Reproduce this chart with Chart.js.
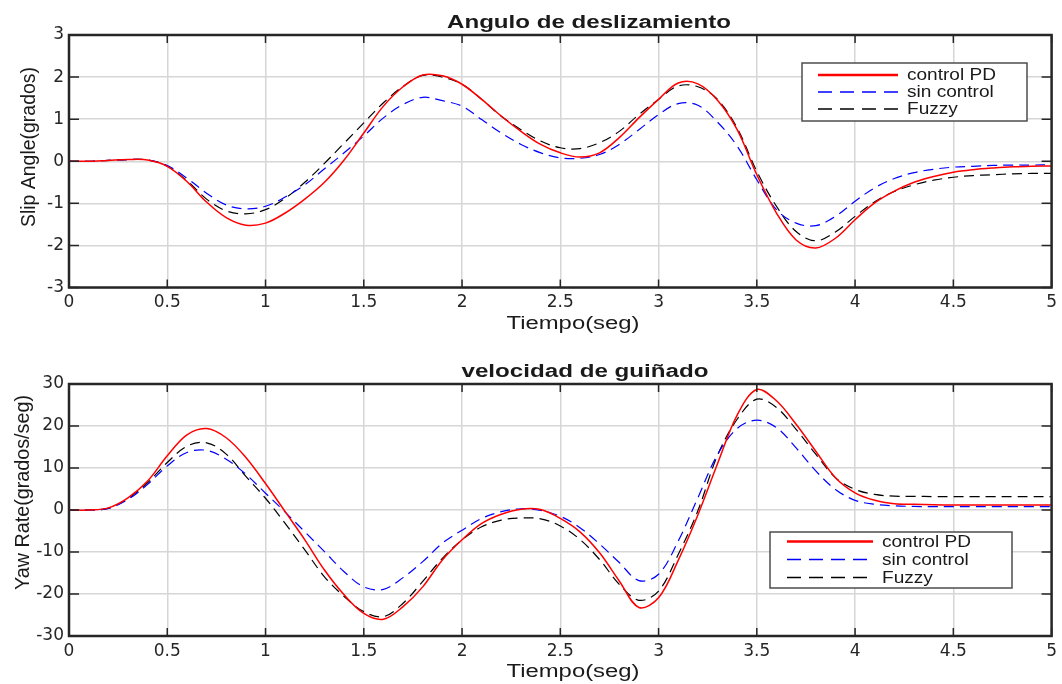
<!DOCTYPE html>
<html>
<head>
<meta charset="utf-8">
<title>Angulo de deslizamiento / velocidad de guiñado</title>
<script src="https://cdn.jsdelivr.net/npm/chart.js"></script>
<style>
    body { margin: 0; background: #ffffff; }
    canvas { position: absolute; left: 0; }
</style>
</head>
<body>
<canvas id="slipChart" width="1062" height="342" style="top:0"></canvas>
<canvas id="yawChart" width="1062" height="342" style="top:342px"></canvas>
<script>
// Tiempo (seg), paso de 0.1
const tiempo = [0, 0.1, 0.2, 0.3, 0.4, 0.5, 0.6, 0.7, 0.8, 0.9,
    1, 1.1, 1.2, 1.3, 1.4, 1.5, 1.6, 1.7, 1.8, 1.9,
    2, 2.1, 2.2, 2.3, 2.4, 2.5, 2.6, 2.7, 2.8, 2.9,
    3, 3.1, 3.2, 3.3, 3.4, 3.5, 3.6, 3.7, 3.8, 3.9,
    4, 4.1, 4.2, 4.3, 4.4, 4.5, 4.6, 4.7, 4.8, 4.9, 5];

// Slip angle (grados)
const slipPD = [0, 0, 0.02, 0.04, 0.03, -0.12, -0.48, -0.97, -1.34, -1.52,
    -1.47, -1.23, -0.9, -0.5, 0.03, 0.67, 1.31, 1.77, 2.05, 2.03,
    1.83, 1.47, 1.07, 0.71, 0.4, 0.2, 0.1, 0.2, 0.56, 1.03,
    1.47, 1.86, 1.84, 1.45, 0.75, -0.32, -1.23, -1.87, -2.06, -1.83,
    -1.39, -0.99, -0.71, -0.5, -0.36, -0.26, -0.2, -0.16, -0.13, -0.12, -0.11];
const slipSin = [0, 0, 0.02, 0.04, 0.03, -0.1, -0.4, -0.76, -1.04, -1.13,
    -1.07, -0.85, -0.56, -0.18, 0.2, 0.6, 1.03, 1.35, 1.52, 1.44,
    1.31, 0.99, 0.67, 0.4, 0.2, 0.08, 0.07, 0.16, 0.4, 0.75,
    1.11, 1.37, 1.33, 0.93, 0.36, -0.44, -1.15, -1.47, -1.53, -1.31,
    -0.95, -0.63, -0.41, -0.27, -0.19, -0.14, -0.12, -0.1, -0.09, -0.09, -0.08];
const slipFuzzy = [0, 0, 0.02, 0.04, 0.03, -0.12, -0.46, -0.9, -1.18, -1.25,
    -1.15, -0.88, -0.5, -0.05, 0.43, 0.91, 1.39, 1.78, 2.04, 2.0,
    1.83, 1.47, 1.07, 0.75, 0.48, 0.32, 0.3, 0.44, 0.71, 1.11,
    1.47, 1.79, 1.77, 1.47, 0.79, -0.24, -1.07, -1.67, -1.89, -1.68,
    -1.31, -0.96, -0.72, -0.56, -0.45, -0.38, -0.34, -0.32, -0.3, -0.29, -0.29];

// Yaw rate (grados/seg)
const yawPD = [0, 0, 0.5, 2.9, 6.9, 12.9, 17.9, 19.4, 17.2, 12.5,
    6.3, -0.4, -7.1, -14.3, -20.2, -24.6, -26, -23, -18.3, -11.9,
    -7.1, -3.2, -1, 0.2, 0.1, -2.0, -5.2, -10.2, -16.9, -23.2,
    -20.9, -12, -1.2, 11, 22.6, 28.7, 26, 20.4, 14, 7.7,
    4.1, 2.3, 1.5, 1.35, 1.25, 1.2, 1.2, 1.2, 1.2, 1.2, 1.2];
const yawSin = [0, 0, 0.4, 2.5, 6.1, 10.5, 13.7, 14.2, 12.1, 8.5,
    4, -0.5, -5.2, -9.9, -14.7, -18.3, -18.9, -16.1, -12.3, -7.9,
    -4.8, -2, -0.4, 0.3, -0.1, -1.5, -4.2, -8.1, -12.5, -16.8,
    -15.3, -7.4, 2.9, 13.2, 19.4, 21.4, 19.6, 14.8, 9.3, 4.9,
    2.3, 1.35, 1.0, 0.85, 0.8, 0.8, 0.8, 0.8, 0.8, 0.8, 0.8];
const yawFuzzy = [0, 0, 0.4, 2.7, 6.5, 11.3, 15.2, 16, 13.3, 8,
    2.8, -3.2, -9.5, -15.9, -20.6, -24.2, -25.4, -22.2, -17, -11.5,
    -7.1, -4, -2.4, -1.9, -2.1, -3.8, -7, -11.8, -17.7, -21.5,
    -19.3, -10.6, -0.2, 13, 21.6, 26.4, 24.4, 19.2, 13.3, 7.7,
    4.9, 3.7, 3.3, 3.25, 3.2, 3.2, 3.2, 3.2, 3.2, 3.2, 3.2];

// Marcas de los ejes
const xTicks = [0, 0.5, 1, 1.5, 2, 2.5, 3, 3.5, 4, 4.5, 5];
const xTickLabels = ['0', '0.5', '1', '1.5', '2', '2.5', '3', '3.5', '4', '4.5', '5'];
const slipTicks = [-3, -2, -1, 0, 1, 2, 3];
const yawTicks = [-30, -20, -10, 0, 10, 20, 30];

const nombres = ['control PD', 'sin control', 'Fuzzy'];

// Dibuja un texto ajustado a un ancho dado (la figura original está estirada)
function textoAjustado(ctx, texto, x, y, ancho, fuente, girado, escalaAlto) {
    ctx.save();
    ctx.font = fuente;
    const w = ctx.measureText(texto).width;
    ctx.translate(x, y);
    if (girado) ctx.rotate(-Math.PI / 2);
    ctx.scale(ancho / w, escalaAlto || 1);
    ctx.textAlign = 'center';
    ctx.textBaseline = 'alphabetic';
    ctx.fillStyle = '#1a1a1a';
    ctx.fillText(texto, 0, 0);
    ctx.restore();
}

// Caja, marcas hacia dentro, leyenda y títulos al estilo MATLAB
const marcoMatlab = {
    id: 'marcoMatlab',
    afterDatasetsDraw(chart, args, o) {
        const { ctx, chartArea: a, scales } = chart;
        ctx.save();
        ctx.strokeStyle = '#262626';
        ctx.lineWidth = 1.5;
        ctx.beginPath();
        scales.x.ticks.forEach(t => {
            const px = scales.x.getPixelForValue(t.value);
            ctx.moveTo(px, a.top); ctx.lineTo(px, a.top + 8);
            ctx.moveTo(px, a.bottom); ctx.lineTo(px, a.bottom - 8);
        });
        scales.y.ticks.forEach(t => {
            const py = scales.y.getPixelForValue(t.value);
            ctx.moveTo(a.left, py); ctx.lineTo(a.left + 10, py);
            ctx.moveTo(a.right, py); ctx.lineTo(a.right - 10, py);
        });
        ctx.stroke();
        ctx.lineWidth = 2.5;
        ctx.strokeRect(a.left, a.top, a.right - a.left, a.bottom - a.top);

        // Leyenda
        const L = o.leyenda;
        ctx.fillStyle = '#ffffff';
        ctx.fillRect(L.x, L.y, L.w, L.h);
        ctx.strokeStyle = '#4d4d4d';
        ctx.lineWidth = 1.5;
        ctx.strokeRect(L.x, L.y, L.w, L.h);
        chart.data.datasets.forEach((ds, i) => {
            const yy = L.y + L.fila0 + i * L.paso;
            ctx.beginPath();
            ctx.strokeStyle = ds.borderColor;
            ctx.lineWidth = i === 0 ? 2.5 : 1.6;
            ctx.setLineDash(ds.borderDash.length ? [14, 8] : []);
            ctx.moveTo(L.x + L.m0, yy);
            ctx.lineTo(L.x + L.m1, yy);
            ctx.stroke();
            ctx.setLineDash([]);
            ctx.save();
            ctx.font = '16px "Liberation Sans", Arial, sans-serif';
            ctx.translate(L.x + L.texto, yy);
            ctx.scale(1.19, 1);
            ctx.textAlign = 'left';
            ctx.textBaseline = 'middle';
            ctx.fillStyle = '#1a1a1a';
            ctx.fillText(ds.label, 0, 1);
            ctx.restore();
        });
        ctx.restore();
    },
    afterDraw(chart, args, o) {
        const ctx = chart.ctx;
        const T = o.titulo, X = o.ejeX, Y = o.ejeY;
        textoAjustado(ctx, T.texto, T.x, T.y, T.ancho, 'bold 17.5px "Liberation Sans", Arial, sans-serif');
        textoAjustado(ctx, X.texto, X.x, X.y, X.ancho, '18px "Liberation Sans", Arial, sans-serif');
        textoAjustado(ctx, Y.texto, Y.x, Y.y, Y.ancho, '19px "Liberation Sans", Arial, sans-serif', true, 1.1);
    }
};

function crearGrafica(id, series, yTicks, yMin, yMax, marco, padTop, altoX) {
    const colores = ['#ff0000', '#0000ff', '#000000'];
    const trazos = [[], [10, 6], [10, 6]];
    const anchos = [1.5, 1.2, 1.2];
    return new Chart(document.getElementById(id), {
        type: 'line',
        data: {
            labels: tiempo,
            datasets: series.map((s, i) => ({
                label: nombres[i],
                data: s,
                borderColor: colores[i],
                borderDash: trazos[i],
                borderWidth: anchos[i],
                pointRadius: 0,
                tension: 0.35,
                fill: false
            }))
        },
        options: {
            responsive: false,
            animation: false,
            events: [],
            layout: { padding: { top: padTop, right: 10, bottom: 0, left: 0 } },
            plugins: {
                legend: { display: false },
                tooltip: { enabled: false },
                marcoMatlab: marco
            },
            scales: {
                x: {
                    type: 'linear',
                    min: 0,
                    max: 5,
                    afterBuildTicks: s => { s.ticks = xTicks.map(v => ({ value: v })); },
                    afterFit: s => { s.height = altoX; },
                    grid: { color: '#d6d6d6', lineWidth: 1.5, drawTicks: false },
                    border: { display: false },
                    ticks: {
                        color: '#262626',
                        padding: 5,
                        maxRotation: 0,
                        autoSkip: false,
                        font: { family: 'DejaVu Sans', size: 17 },
                        callback: (v, i) => xTickLabels[i]
                    }
                },
                y: {
                    min: yMin,
                    max: yMax,
                    afterBuildTicks: s => { s.ticks = yTicks.map(v => ({ value: v })); },
                    afterFit: s => { s.width = 69; },
                    grid: { color: '#d6d6d6', lineWidth: 1.5, drawTicks: false },
                    border: { display: false },
                    ticks: {
                        color: '#262626',
                        padding: 5,
                        autoSkip: false,
                        font: { family: 'DejaVu Sans', size: 17 },
                        callback: v => String(v)
                    }
                }
            }
        },
        plugins: [marcoMatlab]
    });
}

// Gráfica superior: ángulo de deslizamiento
const slipChart = crearGrafica('slipChart', [slipPD, slipSin, slipFuzzy], slipTicks, -3, 3, {
    titulo: { texto: 'Angulo de deslizamiento', x: 589, y: 28, ancho: 284 },
    ejeX: { texto: 'Tiempo(seg)', x: 573, y: 329, ancho: 133 },
    ejeY: { texto: 'Slip Angle(grados)', x: 35, y: 147, ancho: 160 },
    leyenda: { x: 802, y: 63, w: 225, h: 58, fila0: 12, paso: 17, m0: 16, m1: 96, texto: 105 }
}, 35, 54.5);

// Gráfica inferior: velocidad de guiñado
const yawChart = crearGrafica('yawChart', [yawPD, yawSin, yawFuzzy], yawTicks, -30, 30, {
    titulo: { texto: 'velocidad de guiñado', x: 585, y: 35, ancho: 247 },
    ejeX: { texto: 'Tiempo(seg)', x: 573, y: 335, ancho: 133 },
    ejeY: { texto: 'Yaw Rate(grados/seg)', x: 28.5, y: 150.5, ancho: 195 },
    leyenda: { x: 770, y: 190, w: 242, h: 56, fila0: 9.5, paso: 18, m0: 17, m1: 103, texto: 112 }
}, 42, 48);
</script>
</body>
</html>
